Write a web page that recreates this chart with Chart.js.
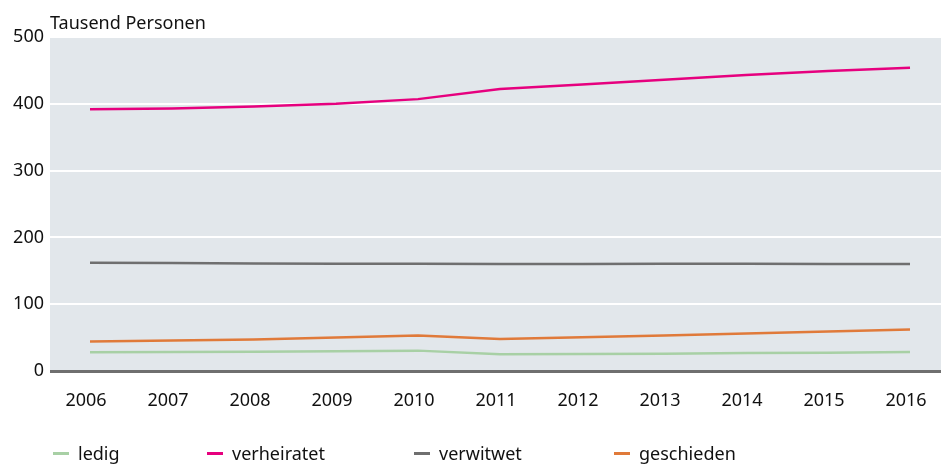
<!DOCTYPE html>
<html>
<head>
<meta charset="utf-8">
<script src="https://cdn.jsdelivr.net/npm/chart.js@4/dist/chart.umd.min.js"></script>
<style>
  html,body{margin:0;padding:0;background:#fff;}
  body{width:941px;height:464px;position:relative;overflow:hidden;font-family:"Noto Sans",sans-serif;color:#111;}
  #wrap{position:absolute;left:0;top:0;width:941px;height:464px;}
  #unit{position:absolute;left:50px;top:10px;font-size:18px;line-height:24px;}
  #legend{position:absolute;left:53px;top:441px;display:flex;font-size:18px;line-height:24px;}
  .item{display:flex;align-items:center;}
  .swatch{width:16px;height:3px;margin-right:9px;}
</style>
</head>
<body>
<div id="wrap"><canvas id="chart" width="941" height="464"></canvas></div>
<div id="unit">Tausend Personen</div>
<div id="legend"></div>
<script>
const years = [2006,2007,2008,2009,2010,2011,2012,2013,2014,2015,2016];
const ledig       = [28, 28.5, 29, 29.5, 30.5, 25, 25.5, 26, 27, 27.5, 28.5];
const verheiratet = [392, 393, 396, 400, 407, 422, 429, 436, 443, 449, 454];
const verwitwet   = [162, 161.5, 161, 160.5, 160.5, 160, 160, 160.5, 160.5, 160, 160];
const geschieden  = [44, 45.5, 47, 50, 53, 48, 50.5, 53, 56, 59, 62];
const yTicks = [0,100,200,300,400,500];

const series = [
  {label:"ledig", values: ledig, color:"#a8d0a5", w:154},
  {label:"verheiratet", values: verheiratet, color:"#e6007e", w:207},
  {label:"verwitwet", values: verwitwet, color:"#6f6f6f", w:200},
  {label:"geschieden", values: geschieden, color:"#e07a3a", w:160},
];

// plot background
const areaBg = {
  id:"areaBg",
  beforeDraw(c){
    const a = c.chartArea, ctx = c.ctx;
    ctx.save();
    ctx.fillStyle = "#e2e7eb";
    ctx.fillRect(a.left, a.top, a.right-a.left, a.bottom-a.top);
    ctx.restore();
  }
};

new Chart(document.getElementById("chart").getContext("2d"), {
  type:"line",
  data:{
    datasets: series.map(s=>({
      label:s.label,
      data: years.map((y,i)=>({x:y, y:s.values[i]})),
      borderColor:s.color,
      backgroundColor:s.color,
      borderWidth:2.5,
      pointRadius:0,
      tension:0
    }))
  },
  options:{
    responsive:false,
    animation:false,
    layout:{padding:{top:37,bottom:43,right:0,left:0}},
    plugins:{legend:{display:false}, tooltip:{enabled:false}},
    scales:{
      x:{
        type:"linear",
        min:2005.512, max:2016.378,
        grid:{display:false},
        border:{display:false},
        afterFit(s){ s.height = 50; s.paddingLeft = 0; s.paddingRight = 0; },
        ticks:{
          stepSize:1, includeBounds:false, padding:11, labelOffset:-4,
          color:"#111", font:{family:"Noto Sans", size:18},
          callback:(v)=>String(v)
        }
      },
      y:{
        min:0, max:500,
        afterFit(s){ s.width = 50; s.paddingTop = 0; s.paddingBottom = 0; },
        afterBuildTicks(s){ s.ticks = yTicks.map(v=>({value:v})); },
        border:{display:false},
        grid:{
          drawTicks:false,
          color:(ctx)=> ctx.tick && ctx.tick.value===0 ? "#6f6f6f" : "#ffffff",
          lineWidth:(ctx)=> ctx.tick && ctx.tick.value===0 ? 3 : 2
        },
        ticks:{padding:6, color:"#111", font:{family:"Noto Sans", size:18}}
      }
    }
  },
  plugins:[areaBg]
});

const lg = document.getElementById("legend");
series.forEach(s=>{
  const d = document.createElement("div");
  d.className = "item";
  d.style.width = s.w + "px";
  d.innerHTML = `<span class="swatch" style="background:${s.color}"></span><span>${s.label}</span>`;
  lg.appendChild(d);
});
</script>
</body>
</html>
